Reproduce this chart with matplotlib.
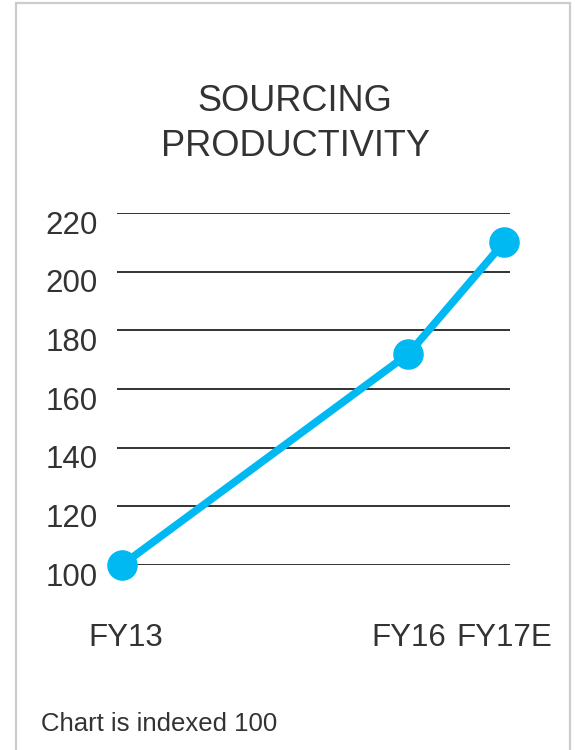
import matplotlib
matplotlib.use("Agg")
import matplotlib.pyplot as plt
from matplotlib.patches import Rectangle
from matplotlib.transforms import ScaledTranslation

plt.rcParams['font.family'] = ['Liberation Sans', 'DejaVu Sans']

# Data
years = [13, 16, 17]
x_labels = ["FY13", "FY16", "FY17E"]
values = [100, 172, 210]
y_ticks = [100, 120, 140, 160, 180, 200, 220]

title = "SOURCING\nPRODUCTIVITY"
footer = "Chart is indexed 100"

W, H = 575, 750
fig = plt.figure(figsize=(W / 100, H / 100), dpi=100)
fig.patch.set_facecolor("white")

# Outer border
fig.patches.append(Rectangle((16 / W, -0.01), (570 - 16) / W, 1 - 3 / H + 0.01,
                             transform=fig.transFigure, fill=False,
                             edgecolor="#cccccc", linewidth=1.6))

ax = fig.add_axes([117 / W, 1 - 565 / H, (510 - 117) / W, (565 - 213) / H])
ax.set_xlim(12.948, 17.063)
ax.set_ylim(100, 220)

for yv in y_ticks:
    ax.axhline(yv, color="#333333", linewidth=1.4, zorder=1)

ax.plot(years, values, color="#00B9F2", linewidth=5.5, marker="o",
        markersize=21, solid_capstyle="round", zorder=3, clip_on=False)

ax.set_yticks(y_ticks)
ax.set_yticklabels([str(v) for v in y_ticks])
ax.set_xticks(years)
ax.set_xticklabels(x_labels)
ax.tick_params(axis="both", length=0, labelsize=22.5, colors="#333333")
ax.tick_params(axis="y", pad=14)
ax.tick_params(axis="x", pad=42)
for s in ax.spines.values():
    s.set_visible(False)

offset = ScaledTranslation(0, -0.09, fig.dpi_scale_trans)
for lab in ax.get_yticklabels():
    lab.set_transform(lab.get_transform() + offset)
xoff = ScaledTranslation(0.04, 0, fig.dpi_scale_trans)
ax.get_xticklabels()[0].set_transform(ax.get_xticklabels()[0].get_transform() + xoff)

fig.text(295 / W, 1 - 124 / H, title, ha="center", va="center",
         fontsize=26, color="#333333", linespacing=1.38)
fig.text(41 / W, 1 - 724 / H, footer, ha="left", va="center",
         fontsize=18.5, color="#333333")

fig.savefig("out.png", dpi=100)
